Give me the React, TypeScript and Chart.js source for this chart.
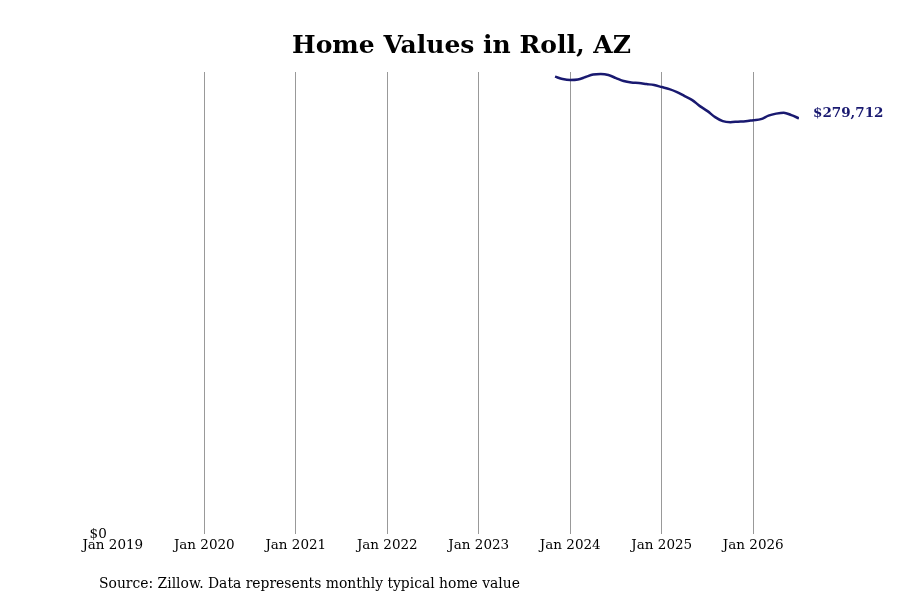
import React, { useEffect, useRef } from "react";
import { Chart, registerables } from "chart.js";

Chart.register(...registerables);

const TITLE = "Home Values in Roll, AZ";
const SOURCE = "Source: Zillow. Data represents monthly typical home value";
const START_YEAR = 2019;
const TICK_YEARS = [2019, 2020, 2021, 2022, 2023, 2024, 2025, 2026];
// Months from Nov 2023 to Jul 2026
const MONTHS = [
  "2023-11", "2023-12",
  "2024-01", "2024-02", "2024-03", "2024-04", "2024-05", "2024-06",
  "2024-07", "2024-08", "2024-09", "2024-10", "2024-11", "2024-12",
  "2025-01", "2025-02", "2025-03", "2025-04", "2025-05", "2025-06",
  "2025-07", "2025-08", "2025-09", "2025-10", "2025-11", "2025-12",
  "2026-01", "2026-02", "2026-03", "2026-04", "2026-05", "2026-06",
  "2026-07",
];
const VALUES = [
  307800, 306150,
  305470, 305800, 307500, 309180, 309520, 308840,
  306820, 304800, 303790, 303450, 302770, 302100,
  300750, 299400, 297380, 294680, 291990, 287940,
  284570, 280520, 277820, 277150, 277490, 277820,
  278500, 279170, 281530, 282880, 283560, 281870,
  279712,
];
const Y_MAX = 310900;
const LINE_COLOR = "#191970";
const FONT = "'DejaVu Serif', serif";

function monthIndex(m: string): number {
  const [y, mo] = m.split("-").map(Number);
  return (y - START_YEAR) * 12 + (mo - 1);
}

export default function App() {
  const ref = useRef<HTMLCanvasElement | null>(null);

  useEffect(() => {
    if (!ref.current) return;
    const points = MONTHS.map((m, i) => ({ x: monthIndex(m), y: VALUES[i] }));

    const textPlugin = {
      id: "texts",
      afterDraw(chart: any) {
        const ctx = chart.ctx;
        ctx.save();
        ctx.fillStyle = "#000";
        ctx.font = `bold 25px ${FONT}`;
        ctx.textAlign = "center";
        ctx.textBaseline = "alphabetic";
        ctx.fillText(TITLE, 461.5, 52.5);

        ctx.font = `13.9px ${FONT}`;
        ctx.textAlign = "left";
        ctx.fillText(SOURCE, 99, 587.5);

        const meta = chart.getDatasetMeta(0);
        const last = meta.data[meta.data.length - 1];
        const v = VALUES[VALUES.length - 1];
        ctx.fillStyle = LINE_COLOR;
        ctx.font = `bold 13.5px ${FONT}`;
        ctx.textBaseline = "middle";
        ctx.fillText("$" + v.toLocaleString("en-US"), last.x + 14, last.y - 5);
        ctx.restore();
      },
    };

    const chart = new Chart(ref.current, {
      type: "line",
      data: {
        datasets: [
          {
            data: points,
            borderColor: LINE_COLOR,
            borderWidth: 2.5,
            pointRadius: 0,
            cubicInterpolationMode: "monotone",
            fill: false,
          },
        ],
      },
      options: {
        animation: false,
        responsive: false,
        layout: { padding: { left: 72.8, right: 101, top: 72, bottom: 36 } },
        plugins: { legend: { display: false }, tooltip: { enabled: false } },
        scales: {
          x: {
            type: "linear",
            min: 0,
            max: monthIndex("2026-07"),
            afterBuildTicks: (scale: any) => {
              scale.ticks = TICK_YEARS.map((y) => ({ value: (y - START_YEAR) * 12 }));
            },
            afterFit: (scale: any) => {
              scale.height = 30;
            },
            ticks: {
              autoSkip: false,
              maxRotation: 0,
              padding: 3,
              color: "#000",
              font: { family: FONT, size: 13.5 },
              callback: (v: any) => "Jan " + (START_YEAR + Math.round(Number(v) / 12)),
            },
            grid: {
              drawTicks: false,
              color: (c: any) => (c.tick && c.tick.value === 0 ? "rgba(0,0,0,0)" : "#999999"),
              lineWidth: 1,
            },
            border: { display: false },
          },
          y: {
            min: 0,
            max: Y_MAX,
            afterBuildTicks: (scale: any) => {
              scale.ticks = [{ value: 0 }];
            },
            afterFit: (scale: any) => {
              scale.width = 40;
            },
            ticks: {
              padding: 6,
              color: "#000",
              font: { family: FONT, size: 13.5 },
              callback: (v: any) => "$" + Number(v).toLocaleString("en-US"),
            },
            grid: { display: false, drawTicks: false },
            border: { display: false },
          },
        },
      },
      plugins: [textPlugin],
    });
    return () => chart.destroy();
  }, []);

  return (
    <div style={{ position: "fixed", left: 0, top: 0, width: 900, height: 600, background: "#fff" }}>
      <canvas ref={ref} width={900} height={600} style={{ width: 900, height: 600 }} />
    </div>
  );
}
